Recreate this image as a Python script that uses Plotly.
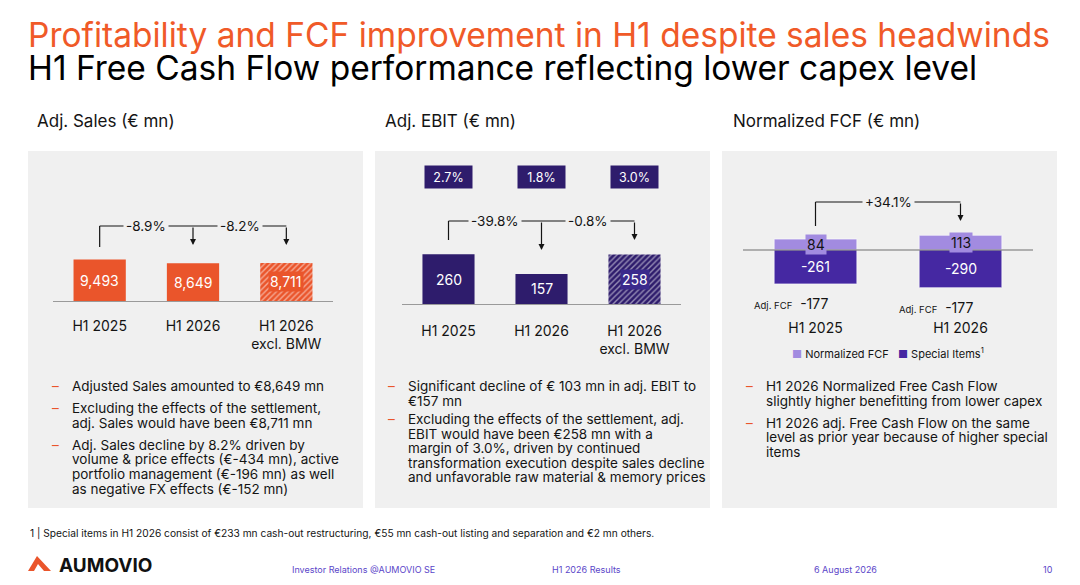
import plotly.graph_objects as go

# the page body keeps an 8px margin, so the figure is drawn 8px in from the corner
OFF = 8
W, H = 1080 - 2 * OFF, 585 - 2 * OFF

# ---- data ----------------------------------------------------------------
sales_labels = ["H1 2025", "H1 2026", "H1 2026<br>excl. BMW"]
sales_values = [9493, 8649, 8711]
sales_hatched = [False, False, True]
sales_changes = ["-8.9%", "-8.2%"]

ebit_labels = ["H1 2025", "H1 2026", "H1 2026<br>excl. BMW"]
ebit_values = [260, 157, 258]
ebit_hatched = [False, False, True]
ebit_margins = ["2.7%", "1.8%", "3.0%"]
ebit_changes = ["-39.8%", "-0.8%"]

fcf_labels = ["H1 2025", "H1 2026"]
fcf_normalized = [84, 113]
fcf_special = [-261, -290]
fcf_change = "+34.1%"

sales_notes = [
    ["Adjusted Sales amounted to €8,649 mn"],
    ["Excluding the effects of the settlement,", "adj. Sales would have been €8,711 mn"],
    ["Adj. Sales decline by 8.2% driven by", "volume & price effects (€-434 mn), active",
     "portfolio management (€-196 mn) as well", "as negative FX effects (€-152 mn)"],
]
ebit_notes = [
    ["Significant decline of € 103 mn in adj. EBIT to", "€157 mn"],
    ["Excluding the effects of the settlement, adj.", "EBIT would have been €258 mn with a",
     "margin of 3.0%, driven by continued", "transformation execution despite sales decline",
     "and unfavorable raw material & memory prices"],
]
fcf_notes = [
    ["H1 2026 Normalized Free Cash Flow", "slightly higher benefitting from lower capex"],
    ["H1 2026 adj. Free Cash Flow on the same", "level as prior year because of higher special", "items"],
]
footnote = ("1 | Special items in H1 2026 consist of €233 mn cash-out restructuring, "
            "€55 mn cash-out listing and separation and €2 mn others.")

# ---- style ---------------------------------------------------------------
FONT = "Inter"
ORANGE = "#EA552B"
TITLE_ORANGE = "#F05A28"
EBIT_DARK = "#2E1C6C"
FCF_LIGHT = "#A28BE0"
FCF_DARK = "#4528A2"
PANEL = "#F0F0F0"
TEXT = "#141414"
AXIS = "#9A9A9A"
FOOT = "#5B46C9"


def px(x):
    return (x - OFF) / W


def py(y):
    return 1 - (y - OFF) / H


fig = go.Figure()

fig.add_trace(go.Bar(
    x=sales_labels, y=sales_values, xaxis="x", yaxis="y", width=0.56,
    marker=dict(color=ORANGE, line=dict(width=0),
                pattern=dict(shape=["/" if h else "" for h in sales_hatched],
                             fillmode="overlay", fgcolor="white", size=4, solidity=0.35)),
    hoverinfo="skip", showlegend=False,
))
fig.add_trace(go.Bar(
    x=ebit_labels, y=ebit_values, xaxis="x2", yaxis="y2", width=0.56,
    marker=dict(color=EBIT_DARK, line=dict(width=0),
                pattern=dict(shape=["/" if h else "" for h in ebit_hatched],
                             fillmode="overlay", fgcolor="white", size=4, solidity=0.35)),
    hoverinfo="skip", showlegend=False,
))
fig.add_trace(go.Bar(
    x=fcf_labels, y=fcf_normalized, xaxis="x3", yaxis="y3", width=0.57,
    name="Normalized FCF", marker=dict(color=FCF_LIGHT, line=dict(color="rgba(255,255,255,0.6)", width=1)),
    hoverinfo="skip", showlegend=False,
))
fig.add_trace(go.Bar(
    x=fcf_labels, y=fcf_special, xaxis="x3", yaxis="y3", width=0.57,
    name="Special Items", marker=dict(color=FCF_DARK, line=dict(color="rgba(255,255,255,0.6)", width=1)),
    hoverinfo="skip", showlegend=False,
))

xcommon = dict(type="category", showgrid=False, zeroline=False, ticks="",
               tickfont=dict(family=FONT, size=14, color=TEXT), fixedrange=True)
fig.update_layout(
    width=W, height=H, margin=dict(l=0, r=0, t=0, b=0),
    paper_bgcolor="white", plot_bgcolor="rgba(0,0,0,0)",
    barmode="relative", showlegend=False,
    font=dict(family=FONT, color=TEXT),
    xaxis=dict(domain=[px(53), px(333)], anchor="y", showline=True, linecolor=AXIS,
               linewidth=1.2, ticklabelstandoff=12, **xcommon),
    yaxis=dict(domain=[py(301), py(170)], anchor="x", range=[0, 30000], visible=False),
    xaxis2=dict(domain=[px(402), px(681)], anchor="y2", showline=True, linecolor=AXIS,
                linewidth=1.2, ticklabelstandoff=14, **xcommon),
    yaxis2=dict(domain=[py(304), py(170)], anchor="x2", range=[0, 700], visible=False),
    xaxis3=dict(domain=[px(743), px(1033)], anchor="y3", showline=False,
                ticklabelstandoff=18, **xcommon),
    yaxis3=dict(domain=[py(300), py(200)], anchor="x3", range=[-385, 385], visible=False),
)

shapes = []
ann = []

# panels
for x0, x1 in ((28, 363), (375, 710), (722, 1057)):
    shapes.append(dict(type="rect", xref="paper", yref="paper", x0=px(x0), x1=px(x1),
                       y0=py(508), y1=py(151), fillcolor=PANEL, line_width=0, layer="below"))

# zero line on the FCF chart, drawn over the bars
shapes.append(dict(type="line", xref="x3 domain", yref="y3", x0=0, x1=1, y0=0, y1=0,
                   line=dict(color="#6E6E6E", width=1.2), layer="above"))


def bracket(xref, line_y, drop_y, tips, labels):
    """Growth bracket: vertical from first bar, horizontal, arrows down to later bars."""
    n = len(tips)
    shapes.append(dict(type="line", xref=xref, yref="paper", x0=0, x1=0,
                       y0=py(drop_y), y1=py(line_y), line=dict(color=TEXT, width=1.2)))
    shapes.append(dict(type="line", xref=xref, yref="paper", x0=0, x1=n,
                       y0=py(line_y), y1=py(line_y), line=dict(color=TEXT, width=1.2)))
    for i, tip in enumerate(tips, start=1):
        ann.append(dict(x=i, y=py(tip), xref=xref, yref="paper", text="", showarrow=True,
                        ax=0, ay=-(tip - line_y), arrowhead=2, arrowsize=1, arrowwidth=1.2,
                        arrowcolor=TEXT, standoff=0, startstandoff=0))
    for i, lab in enumerate(labels):
        ann.append(dict(x=i + 0.5, y=py(line_y), xref=xref, yref="paper", text=lab,
                        yanchor="middle", showarrow=False, bgcolor=PANEL, borderpad=2,
                        font=dict(size=13.5, color=TEXT)))


bracket("x", 226, 247, [245, 245], sales_changes)
bracket("x2", 221, 240, [250, 240], ebit_changes)
bracket("x3", 202, 226, [221], [fcf_change])

# bar value labels
for i, v in enumerate(sales_values):
    ann.append(dict(x=i, y=v / 2, xref="x", yref="y", text=f"{v:,}", showarrow=False,
                    yanchor="middle", font=dict(size=14, color="white"),
                    bgcolor=ORANGE if sales_hatched[i] else None, borderpad=1))
for i, v in enumerate(ebit_values):
    ann.append(dict(x=i, y=v / 2, xref="x2", yref="y2", text=f"{v:,}", showarrow=False,
                    yanchor="middle", font=dict(size=14, color="white"),
                    bgcolor="#3B2A8C" if ebit_hatched[i] else None, borderpad=1))
for i, m in enumerate(ebit_margins):
    ann.append(dict(x=i, y=py(177), xref="x2", yref="paper", text=m, showarrow=False,
                    yanchor="middle", font=dict(size=12.5, color="white"), bgcolor=EBIT_DARK,
                    width=45, height=20))
for i, (n, s) in enumerate(zip(fcf_normalized, fcf_special)):
    ann.append(dict(x=i, y=n / 2, xref="x3", yref="y3", text=f"{n}", showarrow=False,
                    yanchor="middle", font=dict(size=14, color=TEXT), bgcolor=FCF_LIGHT, borderpad=1))
    ann.append(dict(x=i, y=s / 2, xref="x3", yref="y3", text=f"{s}", showarrow=False,
                    yanchor="middle", font=dict(size=14, color="white")))
    ann.append(dict(x=i, y=s, xref="x3", yref="y3", yanchor="top", yshift=-9, xshift=-25,
                    text=f"<span style='font-size:9.5px'>Adj. FCF</span>  {n + s}",
                    showarrow=False, font=dict(size=14, color=TEXT)))

# legend
ann.append(dict(x=px(790), y=py(353), xref="paper", yref="paper", xanchor="left",
                yanchor="middle", showarrow=False, font=dict(size=11, color=TEXT),
                text=(f"<span style='color:{FCF_LIGHT}'>■</span> Normalized FCF   "
                      f"<span style='color:{FCF_DARK}'>■</span> Special Items<sup>1</sup>")))


def text(x, y, s, size, color=TEXT, anchor="left", **kw):
    ann.append(dict(x=px(x), y=py(y), xref="paper", yref="paper", text=s, xanchor=anchor,
                    yanchor="middle", showarrow=False, font=dict(size=size, color=color), **kw))


# titles
text(26, 35, "Profitability and FCF improvement in H1 despite sales headwinds", 33.5, TITLE_ORANGE)
text(26, 68, "H1 Free Cash Flow performance reflecting lower capex level", 33.5, "#000000")
text(35, 121, "Adj. Sales (€ mn)", 17)
text(383, 121, "Adj. EBIT (€ mn)", 17)
text(731, 121, "Normalized FCF (€ mn)", 17)


def notes(paras, dash_x, text_x, start, gap):
    y = start
    for para in paras:
        text(dash_x, y, "–", 13.5, ORANGE)
        for line in para:
            text(text_x, y, line, 13.5)
            y += 14.6
        y += gap


notes(sales_notes, 50, 70, 386, 7.5)
notes(ebit_notes, 386, 406, 386, 3.7)
notes(fcf_notes, 744, 764, 386, 7.5)

# footnote and footer
text(28, 533, footnote, 10.2)
text(57, 565, "<b>AUMOVIO</b>", 19, "#111111")
text(290, 569, "Investor Relations @AUMOVIO SE", 9, FOOT)
text(550, 569, "H1 2026 Results", 9, FOOT)
text(812, 569, "6 August 2026", 9, FOOT)
text(1055, 569, "10", 9, FOOT, anchor="right")

# logo mark
lx, ly = 28, 556
shapes.append(dict(type="path", xref="paper", yref="paper", fillcolor=ORANGE, line_width=0,
                   path=(f"M {px(lx)},{py(ly + 15)} L {px(lx + 9)},{py(ly)} "
                         f"L {px(lx + 23)},{py(ly + 15)} L {px(lx + 16)},{py(ly + 15)} "
                         f"L {px(lx + 10)},{py(ly + 8)} L {px(lx + 6)},{py(ly + 15)} Z")))

fig.update_layout(shapes=shapes, annotations=ann)
fig.write_html("out.html")
